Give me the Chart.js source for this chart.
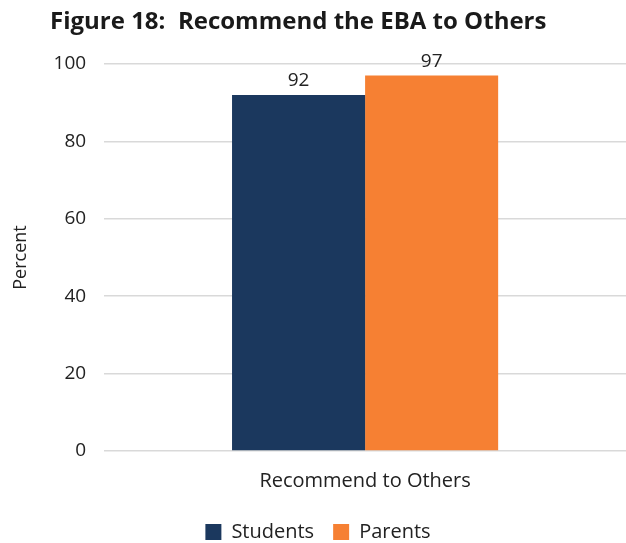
<!DOCTYPE html>
<html>
<head>
<meta charset="utf-8">
<script src="https://cdn.jsdelivr.net/npm/chart.js@4"></script>
<style>
  html, body { margin: 0; padding: 0; background: #fff; }
  #wrap { width: 626px; height: 543px; }
</style>
</head>
<body>
<div id="wrap"><canvas id="grafico"></canvas></div>
<script>
// Dados do gráfico
const categorias = ['Recommend to Others'];
const alunos = [92];
const pais = [97];
const ticksY = [0, 20, 40, 60, 80, 100];

const FONTE = "'Open Sans', sans-serif";
const titulo = 'Figure 18:  Recommend the EBA to Others';

// Título desenhado à mão, alinhado à esquerda
const tituloPlugin = {
    id: 'tituloFigura',
    afterDraw(chart) {
        const ctx = chart.ctx;
        ctx.save();
        ctx.font = "bold 24px " + FONTE;
        ctx.fillStyle = '#1a1a1a';
        ctx.textAlign = 'left';
        ctx.textBaseline = 'middle';
        ctx.fillText(titulo, 50, 22);
        ctx.restore();
    }
};

// Rótulos de valor acima das barras
const rotulosPlugin = {
    id: 'rotulos',
    afterDatasetsDraw(chart) {
        const ctx = chart.ctx;
        ctx.save();
        ctx.font = "19px " + FONTE;
        ctx.fillStyle = '#222';
        ctx.textAlign = 'center';
        ctx.textBaseline = 'bottom';
        chart.data.datasets.forEach((ds, i) => {
            chart.getDatasetMeta(i).data.forEach((bar, j) => {
                ctx.fillText(ds.data[j], bar.x, bar.y - 5);
            });
        });
        ctx.restore();
    }
};

const ctx = document.getElementById('grafico').getContext('2d');
new Chart(ctx, {
    type: 'bar',
    data: {
        labels: categorias,
        datasets: [
            {
                label: 'Students',
                data: alunos,
                backgroundColor: '#1B385E',
                categoryPercentage: 0.51,
                barPercentage: 1.0
            },
            {
                label: 'Parents',
                data: pais,
                backgroundColor: '#F68033',
                categoryPercentage: 0.51,
                barPercentage: 1.0
            }
        ]
    },
    options: {
        responsive: true,
        maintainAspectRatio: false,
        animation: false,
        layout: { padding: { top: 64, left: 10, right: 0, bottom: -9 } },
        plugins: {
            legend: {
                position: 'bottom',
                labels: {
                    boxWidth: 16,
                    boxHeight: 16,
                    padding: 19,
                    color: '#222',
                    font: { family: FONTE, size: 20 }
                }
            },
            tooltip: { enabled: false }
        },
        scales: {
            y: {
                min: 0,
                max: 100,
                afterBuildTicks(axis) { axis.ticks = ticksY.map(v => ({ value: v })); },
                border: { display: false },
                grid: { color: '#D9D9D9', lineWidth: 1.5, drawTicks: false },
                ticks: { padding: 18, color: '#222', font: { family: FONTE, size: 19 } },
                title: {
                    display: true,
                    text: 'Percent',
                    color: '#222',
                    font: { family: FONTE, size: 18 },
                    padding: { top: 0, bottom: 4 }
                }
            },
            x: {
                border: { display: false },
                grid: { display: false },
                ticks: { padding: 10, color: '#222', font: { family: FONTE, size: 20 } }
            }
        }
    },
    plugins: [tituloPlugin, rotulosPlugin]
});
</script>
</body>
</html>
